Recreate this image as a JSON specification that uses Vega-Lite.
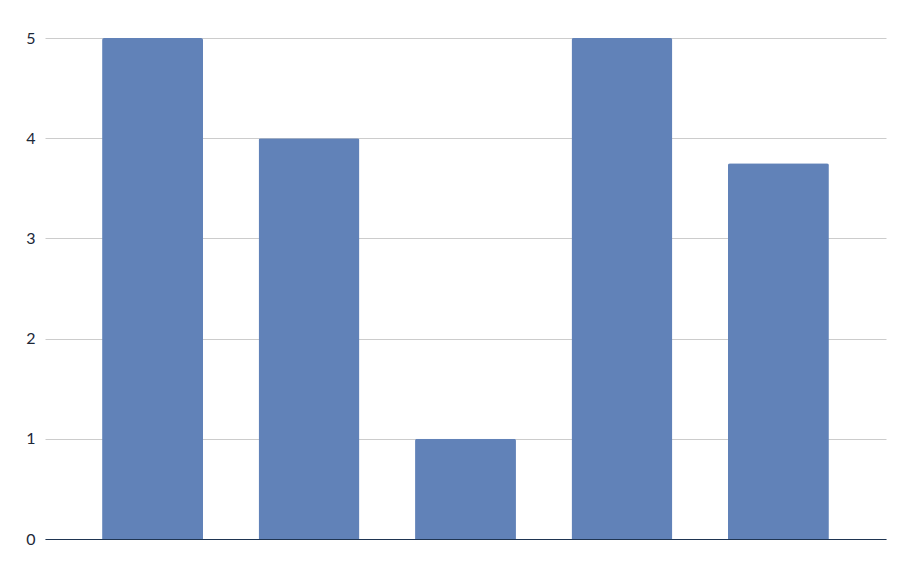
{
  "$schema": "https://vega.github.io/schema/vega-lite/v6.json",
  "width": 841,
  "height": 501,
  "autosize": "none",
  "padding": {"left": 45, "top": 38, "right": 18, "bottom": 25},
  "background": "white",
  "config": {"view": {"stroke": null}},
  "data": {
    "values": [
      {"item": "A", "value": 5},
      {"item": "B", "value": 4},
      {"item": "C", "value": 1},
      {"item": "D", "value": 5},
      {"item": "E", "value": 3.75}
    ]
  },
  "mark": {
    "type": "bar",
    "color": "#6182b8",
    "cornerRadiusTopLeft": 2,
    "cornerRadiusTopRight": 2
  },
  "encoding": {
    "x": {
      "field": "item",
      "type": "nominal",
      "sort": null,
      "scale": {"paddingInner": 0.355, "paddingOuter": 0.365},
      "axis": {
        "title": null,
        "labels": false,
        "ticks": false,
        "domainColor": "#1f3552",
        "domainWidth": 1.2
      }
    },
    "y": {
      "field": "value",
      "type": "quantitative",
      "scale": {"domain": [0, 5], "nice": false},
      "axis": {
        "title": null,
        "values": [0, 1, 2, 3, 4, 5],
        "ticks": false,
        "domain": false,
        "gridColor": "#cccccc",
        "gridWidth": 1,
        "labelFont": "Lato",
        "labelFontSize": 16,
        "labelColor": "#1c2838",
        "labelPadding": 10
      }
    }
  }
}
